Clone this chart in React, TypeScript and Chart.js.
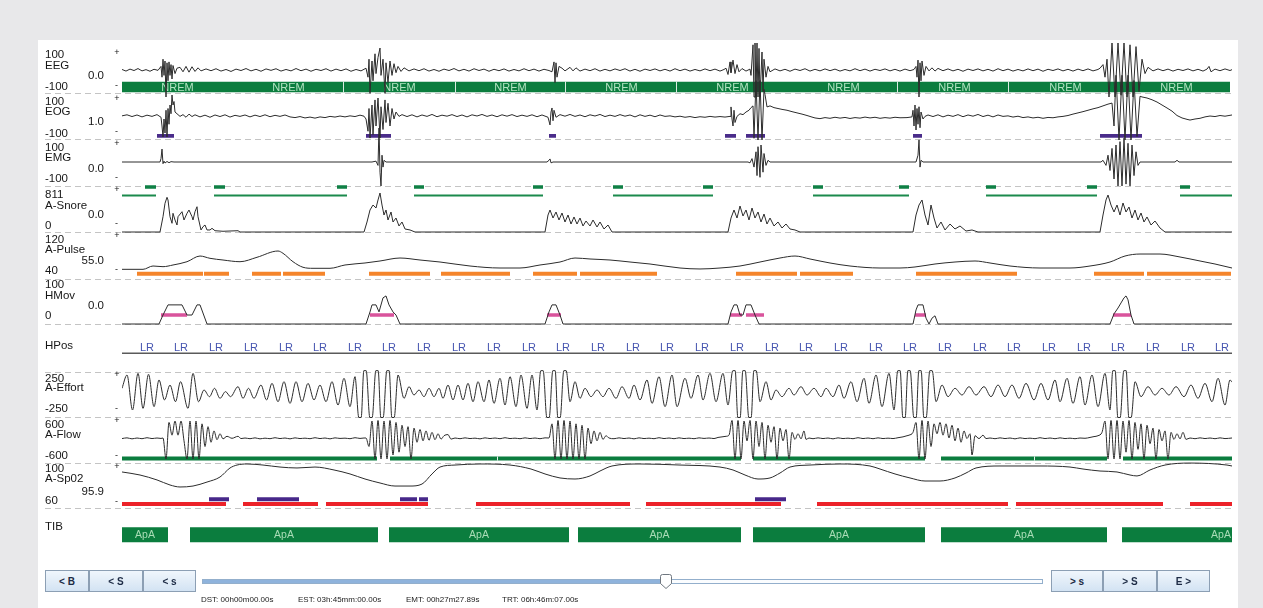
import React, { useEffect, useRef } from 'react';
import { Chart, registerables } from 'chart.js';

Chart.register(...registerables);

type TV = [number, number];
type Seg = [number, number];

// Visible window: 10 epochs, time axis in ticks (0 .. 1110)
const TIME_MAX = 1110;

// ---------------- signals: [time, value] ----------------
const EEG: TV[] = [
  [0,3],[4,-6],[8,5],[12,-3],[16,8],[20,-5],[24,2],[28,-7],[32,4],[36,-2],
  [39,20],[40,-40],[41,60],[42,-30],[43,50],[44,-150],[45,40],[46,-60],[47,45],[48,-30],[49,30],[50,-50],[51,25],[53,-20],[55,10],
  [58,15],[61,-10],[64,20],[67,-12],[70,18],[73,-8],[76,12],[79,-5],
  [84,6],[89,-4],[94,7],[99,-6],[104,3],[109,-8],[114,5],[119,-3],[124,8],[129,-5],[134,4],[139,-7],[144,6],[149,-2],[154,7],[159,-6],[164,3],[169,-5],[174,8],[179,-4],[184,5],[189,-7],[194,4],[199,-3],[204,7],[209,-6],[214,5],[219,-4],[224,6],[229,-7],[234,3],[239,-5],
  [244,10],[246,-40],[247,60],[248,-130],[250,50],[251,-60],[253,90],[254,-20],[256,70],[258,122],[259,-30],[261,60],[263,-130],[264,40],[266,-70],[268,50],[270,-30],[272,35],[274,-15],[276,20],[279,-8],[282,12],
  [287,-5],[292,6],[297,-4],[302,7],[307,-6],[312,3],[317,-7],[322,5],[327,-3],[332,8],[337,-5],[342,4],[347,-6],[352,7],[357,-3],[362,5],[367,-7],[372,4],[377,-4],[382,6],[387,-6],[392,3],[397,-5],[402,7],[407,-4],[412,5],[417,-6],[422,4],[427,-3],
  [430,-10],[432,45],[433,-70],[434,40],[435,-40],[437,20],[440,10],[443,-5],[448,15],[451,-5],[454,12],[458,-6],
  [463,5],[468,-4],[473,7],[478,-6],[483,4],[488,-5],[493,6],[498,-3],[503,7],[508,-6],[513,4],[518,-7],[523,5],[528,-3],[533,6],[538,-5],[543,4],[548,-6],[553,7],[558,-4],[563,5],[568,-6],[573,3],[578,-5],[583,6],[588,-4],[593,5],[598,-6],[602,3],
  [604,10],[606,-25],[608,45],[609,-15],[611,55],[613,-20],[615,30],[617,-10],[620,8],[624,-6],[628,5],
  [629,-30],[631,140],[632,-150],[633,150],[634,-150],[635,150],[636,-150],[637,120],[638,-150],[640,100],[641,-120],[642,60],[644,-40],[646,20],[648,-10],
  [653,6],[658,-5],[663,4],[668,-7],[673,5],[678,-3],[683,7],[688,-6],[693,4],[698,-5],[703,6],[708,-4],[713,5],[718,-6],[723,3],[728,-5],[733,7],[738,-4],[743,5],[748,-6],[753,4],[758,-3],[763,6],[768,-5],[773,4],[778,-6],[783,5],[788,-4],[792,3],
  [794,20],[795,-40],[796,55],[797,-150],[798,40],[799,-60],[800,50],[802,-30],[804,20],[807,-5],[810,12],[813,-6],[816,9],
  [821,-4],[826,6],[831,-5],[836,4],[841,-7],[846,5],[851,-3],[856,6],[861,-5],[866,4],[871,-6],[876,7],[881,-4],[886,5],[891,-6],[896,3],[901,-5],[906,6],[911,-4],[916,5],[921,-7],[926,4],[931,-3],[936,6],[941,-5],[946,4],[951,-6],[956,5],[961,-4],[966,6],[971,-5],[976,3],
  [978,10],[981,30],[983,-40],[985,60],[987,-150],[990,150],[993,-150],[996,150],[999,-140],[1002,150],[1005,-150],[1008,140],[1011,-150],[1014,130],[1017,-120],[1020,60],[1023,-20],[1026,15],
  [1031,-5],[1036,6],[1041,-4],[1046,5],[1051,-6],[1056,4],[1061,-3],[1066,6],[1071,-5],[1076,4],[1081,-6],[1085,5],[1087,20],[1089,-10],[1093,5],[1098,-4],[1103,6],[1108,-3],[1110,2],
];

const EOG: TV[] = [
  [0,-2],[5,4],[10,-6],[15,3],[20,-8],[25,2],[30,-5],[35,5],
  [39,-10],[40,-60],[41,-123],[42,-20],[43,-100],[44,30],[45,-123],[46,40],[47,-50],[48,60],[49,10],[50,117],[51,60],[52,80],[53,20],[55,10],
  [58,-5],[61,5],[64,-10],[67,8],[70,-6],[73,4],
  [78,-8],[83,2],[88,-10],[93,3],[98,-6],[103,4],[108,-9],[113,1],[118,-5],[123,3],[128,-8],[133,2],[138,-6],[143,4],[148,-7],[153,1],[158,-5],[163,3],[168,-8],[173,-12],[178,-6],[183,-14],[188,-9],[193,-15],[198,-8],[203,-12],[208,-5],[213,-9],[218,-3],[223,-8],[228,-2],[233,-6],[238,2],[242,-4],
  [244,-20],[246,-90],[247,40],[248,-129],[250,60],[251,-110],[253,89],[254,-60],[256,100],[258,-129],[259,50],[261,-80],[263,89],[264,-40],[266,70],[268,-60],[270,40],[272,-20],[274,20],[277,-5],
  [280,5],[285,-6],[290,4],[295,-8],[300,3],[305,-5],[310,6],[315,-7],[320,2],[325,-4],[330,5],[335,-6],[340,3],[345,-8],[350,4],[355,-3],[360,6],[365,-5],[370,3],[375,-7],[380,4],[385,-4],[390,5],[395,-6],[400,2],[405,-5],[410,4],[415,-7],[420,3],
  [426,-10],[428,-54],[429,20],[430,43],[431,-30],[432,30],[434,-10],
  [438,5],[443,-4],[448,6],[453,-5],[458,3],[463,-7],[468,4],[473,-3],[478,6],[483,-6],[488,2],[493,-5],[498,5],[503,-4],[508,3],[513,-8],[518,4],[523,-5],[528,2],[533,-7],[538,3],[543,-5],[548,-2],[553,-8],[558,-4],[563,-10],[568,-6],[573,-12],[578,-7],[583,-10],[588,-5],[593,-9],[598,-6],[603,-9],
  [608,-5],[609,49],[610,-20],[611,-60],[612,30],[613,-40],[615,-5],
  [618,10],[621,5],[624,20],[627,30],[629,45],[631,55],
  [632,-130],[634,200],[636,-140],[638,200],[640,-140],[642,150],[643,120],
  [645,49],[648,55],[652,45],[656,40],[660,35],[665,30],[670,22],[675,15],[680,8],[685,0],[690,-9],[693,-14],
  [698,-18],[703,-12],[708,-16],[713,-10],[718,-15],[723,-11],[728,-17],[733,-12],[738,-15],[743,-9],[748,-14],[753,-10],[758,-16],[763,-12],[768,-15],[773,-10],[778,-13],[785,-12],[790,-8],
  [791,30],[792,-60],[793,60],[794,-83],[795,40],[796,-50],[797,50],[798,-70],[799,20],[801,-20],[803,-5],
  [806,3],[811,-6],[816,4],[821,-8],[826,2],[831,-5],[836,5],[841,-7],[846,3],[851,-4],[856,6],[861,-6],[866,2],[871,-8],[876,3],[881,-5],[886,-2],[891,-9],[896,-4],[901,-12],[906,-8],[911,-14],[916,-10],[921,-16],[926,-11],[931,-13],[936,-8],
  [941,-5],[946,0],[951,8],[956,15],[961,22],[966,30],[971,38],[976,45],[981,55],[986,65],[990,71],
  [992,-60],[994,230],[997,-140],[1000,230],[1003,-140],[1006,230],[1009,-140],[1012,200],[1015,-120],[1018,110],
  [1020,106],[1025,100],[1030,90],[1035,77],[1040,60],[1045,43],[1050,25],[1055,0],[1060,-14],[1065,-22],[1068,-26],[1073,-20],[1078,-16],[1083,-8],[1088,-3],[1093,-6],[1098,0],[1103,-4],[1110,3],
];

const EMG: TV[] = [
  [0,0],[38,0],[39,20],[40,76],[41,-10],[42,5],[43,-6],[45,3],[47,-4],[49,2],[52,0],
  [250,0],[254,5],[256,-20],[257,200],[258,-60],[259,-141],[260,40],[261,-30],[262,10],[264,0],
  [425,0],[427,10],[428,18],[429,-5],[431,0],
  [626,0],[628,-5],[630,20],[632,-30],[634,60],[635,-80],[636,90],[638,-90],[639,100],[641,-60],[642,50],[644,-20],[646,10],[648,0],
  [794,0],[796,40],[797,130],[798,-30],[799,10],[801,0],
  [979,0],[981,10],[984,-20],[986,40],[988,-50],[990,80],[992,-100],[994,100],[996,-141],[998,120],[1000,-141],[1002,140],[1004,-130],[1006,110],[1008,-141],[1010,100],[1012,-80],[1014,60],[1016,-20],[1018,0],
  [1053,0],[1055,10],[1057,0],[1110,0],
];

const SNORE: TV[] = [
  [0,0],[38,0],[41,295],[43,554],[45,670],[46,618],[48,295],[50,168],[51,361],[53,232],[55,135],[56,295],[60,392],[62,232],[65,361],[67,425],[70,295],[71,232],[73,392],[75,488],[76,295],[79,39],[81,102],[83,135],[85,39],[88,39],[90,71],[93,25],[101,14],[116,25],[118,0],
  [242,0],[245,193],[248,425],[251,521],[254,463],[256,618],[258,753],[260,521],[262,328],[264,425],[266,232],[269,386],[271,193],[274,270],[277,116],[280,193],[283,58],[288,39],[293,0],
  [423,0],[426,328],[428,425],[431,270],[434,386],[437,232],[440,367],[443,193],[446,328],[449,154],[452,290],[455,154],[458,270],[461,116],[464,212],[468,116],[471,232],[475,97],[478,193],[482,58],[486,135],[490,0],
  [606,0],[609,270],[612,425],[615,270],[618,502],[621,309],[624,425],[627,232],[630,463],[633,270],[636,386],[639,193],[642,347],[645,154],[648,270],[652,116],[656,193],[660,77],[664,154],[668,58],[673,39],[678,0],
  [791,0],[794,328],[797,521],[800,618],[803,328],[806,135],[809,521],[812,270],[815,77],[819,193],[823,39],[828,154],[833,58],[838,116],[844,19],[850,39],[856,0],
  [978,0],[981,328],[984,618],[986,714],[989,521],[992,386],[995,521],[998,328],[1001,560],[1004,386],[1007,483],[1010,270],[1013,425],[1016,232],[1019,367],[1022,193],[1025,290],[1029,135],[1033,212],[1038,77],[1043,0],
  [1110,0],
];

const PULSE: TV[] = [
  [0,41.6],[21,41.6],[31,49.4],[41,47.8],[51,51.8],[65,59.5],[78,72.9],[88,67.5],[101,63.5],[118,59.5],[135,69.9],[156,84.7],[161,79.3],[171,59.5],[181,46.4],[191,44],[208,44],
  [223,51.8],[243,56.5],[258,61.2],[278,68.2],[298,63.5],[318,58.8],[348,49.4],[378,44.7],[398,44.7],[418,51.8],[438,58.8],[453,68.2],[468,65.9],[488,63.5],[508,58.8],[528,54.1],[558,44.7],[578,42.4],[598,44.7],
  [618,49.4],[638,58.8],[658,68.2],[673,72.9],[688,65.9],[708,56.5],[728,49.4],[758,44.7],[778,44.7],[793,47.1],[813,54.1],[833,58.8],[853,61.2],[868,56.5],[888,49.4],[918,44.7],[948,44.7],
  [968,49.4],[988,58.8],[1003,72.9],[1018,77.6],[1038,77.6],[1058,70.6],[1078,61.2],[1093,54.1],[1110,44.7],
];

const HMOV: TV[] = [
  [0,0],[37,0],[41,23],[46,49],[60,49],[65,23],[70,23],[75,49],[78,49],[85,0],
  [244,0],[248,31],[250,49],[254,49],[257,31],[261,67],[264,72],[267,49],[271,31],[274,23],[278,0],
  [423,0],[427,31],[430,49],[434,49],[438,23],[441,0],
  [606,0],[609,31],[612,49],[615,49],[618,23],[621,23],[624,49],[629,49],[633,23],[637,0],
  [791,0],[794,36],[796,49],[801,49],[804,15],[807,0],[810,15],[813,21],[816,0],
  [988,0],[992,26],[996,41],[999,54],[1002,67],[1004,72],[1006,62],[1009,23],[1012,0],[1110,0],
];

const EFFORT: TV[] = [
  [0,65],[5,250],[10.5,-236],[16,273],[21,-213],[26.5,260],[32,-190],[37,181],[42.5,-97],[48,111],[53.5,-121],[58.5,157],[66,-213],[71,273],[76.5,-121],
  [82,42],[87.5,-51],[92.5,65],[98,-74],[103.5,19],[108.5,-51],[116,88],[121,-74],[126.5,65],[132,-74],[139,111],[144.5,-97],
  [150,134],[156,-121],[162,157],[168,-144],[174,157],[180,-121],[186,134],[192,-97],[198,111],[204,-121],[210,157],[216,-167],[222,204],[228,-190],[233,227],
  [236.8,-340],[239.2,-340],[241.8,310],[244.2,310],[247.8,-340],[250.2,-340],[253.8,310],[256.2,310],[258.8,-340],[261.2,-340],[264.8,310],[267.2,310],[269.8,-340],[272.2,-340],
  [276,250],[282,-74],
  [287,88],[292,-28],[297,42],[302,-51],[307,65],[312,-51],[317,65],
  [321,-74],[326,111],[331,-97],[336,111],[341,-97],[346,134],[351,-121],[356,157],[362,-121],[367,181],[372,-144],[378,204],[383,-167],[388,227],[394,-190],[399,250],[405,-213],[410,250],[415,-236],
  [418.8,310],[421.2,310],[424.8,-340],[427.2,-340],[430.8,310],[433.2,310],[435.8,-340],[438.2,-340],[441.8,310],[444.2,310],[448,-121],
  [453,157],[458,-74],[463,65],[469,-51],[475,42],[481,-51],[487,65],[494,-74],[500,88],[507,-74],[512,111],[518,-97],
  [525,181],[530,-144],[537,227],[543,-190],[550,250],[555,-190],[563,204],[569,-74],[576,250],[581,-97],[588,273],[594,-121],[601,273],[606,-167],
  [610.8,310],[613.2,310],[615.8,-340],[618.2,-340],[620.8,310],[623.2,310],[626.8,-340],[629.2,-340],[631.8,310],[634.2,310],
  [638,-121],[644,157],[649,-97],[654,42],[660,-51],[667,65],[672,-28],[679,88],[685,-28],[692,65],[699,-51],[704,65],[711,-51],
  [717,111],[722,-74],[729,157],[735,-121],[742,204],[747,-144],[754,250],[760,-190],[767,273],[772,-236],
  [775.8,310],[778.2,310],[780.8,-340],[783.2,-340],[785.8,310],[788.2,310],[791.8,-340],[794.2,-340],[796.8,310],[799.2,310],[801.8,-340],[804.2,-340],[807.8,310],[810.2,310],
  [814,-121],[820,111],[826,-51],[833,65],[840,-28],[847,88],[854,-28],[862,88],[869,-51],[876,111],[883,-51],[890,111],[897,-74],[904,134],[912,-97],
  [919,134],[926,-97],[933,181],[938,-121],[945,204],[951,-144],[958,227],[963,-167],[970,250],[976,-190],[983,273],[988,-236],
  [990.8,310],[993.2,310],[995.8,-340],[998.2,-340],[1001.8,310],[1004.2,310],[1006.8,-340],[1009.2,-340],
  [1013,157],[1019,-51],[1026,88],[1033,-28],[1040,65],[1047,-28],[1054,88],[1062,-51],[1069,111],[1076,-74],[1083,134],[1090,-121],[1096,204],[1103,-167],[1108,181],[1110,150],
];

const FLOW: TV[] = [
  [0,-20],[5,5],[10,-30],[15,0],[20,-25],[25,10],[30,-20],[35,0],[39,-15],
  [41,0],[44,-740],[47,550],[50,100],[53,600],[56,100],[59,600],[62,-100],[65,-740],[68,600],[71,-740],[74,600],[77,-740],[80,500],[83,-300],[86,400],[89,-150],[92,250],[95,-60],[98,150],[101,-30],[105,60],[110,-10],[116,60],[119,-20],[123,0],
  [128,-25],[133,5],[138,-30],[143,-5],[148,-25],[153,10],[158,-20],[163,0],[168,-30],[173,5],[178,-20],[183,-5],[188,-25],[193,10],[198,-20],[203,0],[208,-30],[213,5],[218,-15],[223,-5],[228,-25],[233,10],[238,-15],[242,0],
  [244,0],[247,-300],[250,600],[253,-740],[256,620],[259,-740],[262,600],[265,-740],[268,620],[271,-600],[274,550],[277,-500],[280,450],[283,-300],[286,400],[289,-740],[292,350],[295,-150],[298,300],[301,-100],[304,250],[307,-80],[310,200],[313,-60],[316,150],[319,-40],[322,80],[326,120],[329,-40],[333,0],
  [338,-25],[343,5],[348,-20],[353,-5],[358,-30],[363,5],[368,-20],[373,0],[378,-25],[383,10],[388,-20],[393,-5],[398,-25],[403,5],[408,-20],[413,0],[418,-25],[423,5],
  [427,0],[430,500],[433,-740],[436,620],[439,-740],[442,620],[445,-740],[448,600],[451,-740],[454,500],[457,-740],[460,450],[463,-740],[466,350],[469,-200],[472,250],[475,-100],[478,200],[481,-50],[484,80],[487,0],
  [492,-25],[497,5],[502,-20],[507,0],[512,-30],[517,5],[522,-20],[527,-5],[532,-25],[537,10],[542,-20],[547,0],[552,-25],[557,5],[562,-20],[567,-5],[572,-25],[577,5],[582,-15],[587,0],[592,-20],[596,20],[600,40],
  [604,60],[607,100],[610,620],[613,-740],[616,620],[619,-740],[622,600],[625,-100],[628,620],[631,-740],[634,600],[637,-300],[640,550],[643,-740],[646,450],[649,-150],[652,400],[655,-740],[658,350],[661,-100],[664,300],[667,-740],[670,200],[673,-50],[676,150],[679,-30],[682,250],[684,-50],[687,0],
  [691,-25],[696,5],[701,-20],[706,0],[711,-30],[716,5],[721,-20],[726,-5],[731,-25],[736,10],[741,-20],[746,0],[751,-25],[756,5],[761,-20],[766,-5],[771,-20],[776,10],[781,40],[785,80],
  [787,100],[791,200],[794,550],[797,-740],[800,620],[803,-740],[806,600],[809,-300],[812,500],[815,150],[818,550],[821,100],[824,500],[827,0],[830,450],[833,-100],[836,350],[839,-150],[842,250],[845,-20],[848,150],[850,-600],[853,80],[857,-20],[861,100],[864,-20],[868,0],
  [873,-25],[878,5],[883,-20],[888,0],[893,-30],[898,5],[903,-20],[908,-5],[913,-25],[918,10],[923,-20],[928,0],[933,-25],[938,5],[943,-20],[948,-5],[953,-25],[958,0],[963,-10],[968,20],[972,50],
  [976,80],[980,200],[983,600],[986,-740],[989,620],[992,-740],[995,620],[998,-740],[1001,600],[1004,-500],[1007,620],[1010,-740],[1013,550],[1016,-400],[1019,500],[1022,-740],[1025,450],[1028,-200],[1031,350],[1034,-740],[1037,300],[1040,-100],[1043,250],[1046,-740],[1049,200],[1052,-50],[1055,150],[1058,-30],[1061,200],[1064,-50],[1068,0],
  [1073,-25],[1078,5],[1083,-20],[1088,0],[1093,-25],[1098,5],[1103,-20],[1110,0],
];

const SPO2: TV[] = [
  [0,88.6],[18,85.7],[35,81],[48,76.2],[58,74.3],[71,75.2],[85,79],[98,83.8],[108,92.4],[115,95.2],[125,96.2],[141,95.2],[158,93.3],[175,92.4],[193,93.3],[212,90.5],
  [228,86.7],[243,81.9],[258,78.1],[273,75.2],[288,75.2],[300,77.1],[310,86.7],[318,93.3],[333,95.2],[358,96.2],[388,95.2],[409,91.4],[423,86.7],[438,82.9],[453,81.9],[468,84.8],
  [478,89.5],[490,94.3],[518,96.2],[558,95.2],[598,93.3],[611,90.5],[623,85.7],[636,81.9],[648,82.9],[658,87.6],[668,93.3],[688,95.2],[718,96.2],[748,94.3],[758,91.4],[773,86.7],
  [788,82.9],[803,80],[818,80],[833,82.9],[844,87.6],[854,92.4],[878,94.3],[918,94.3],[948,93.3],[961,91.4],[978,89.5],[995,88.6],[1008,85.7],[1015,84.8],[1028,90.5],[1043,95.2],
  [1068,97.1],[1105,95.2],[1110,94.3],
];

// ---------------- scored events: [start, end] ----------------
const SLEEP_STAGE_SEGS: Seg[] = [[0, 1108]];
const SLEEP_STAGE_BREAKS = [221, 333, 443, 554, 775, 886];
const EPOCH_CENTERS = [55.5, 166.5, 277.5, 388.5, 499.5, 610.5, 721.5, 832.5, 943.5, 1054.5];
const EPOCH_STAGES = ['NREM','NREM','NREM','NREM','NREM','NREM','NREM','NREM','NREM','NREM'];
const EOG_EVENTS: Seg[] = [[35,52],[244,269],[427,434],[603,614],[624,643],[791,800],[978,1020]];
const SNORE_MARKS: Seg[] = [[23,34],[92,103],[215,225],[292,302],[411,421],[491,501],[581,591],[691,701],[777,787],[864,874],[965,975],[1058,1068]];
const SNORE_SPANS: Seg[] = [[0,34],[92,225],[292,421],[491,591],[691,787],[864,975],[1058,1110]];
const PULSE_EVENTS: Seg[] = [[15,81],[82,107],[130,159],[161,203],[247,308],[319,388],[411,455],[458,535],[614,675],[678,731],[794,895],[972,1022],[1025,1109]];
const HMOV_EVENTS: Seg[] = [[39,65],[248,272],[425,439],[608,620],[624,642],[793,804],[991,1009]];
const HPOS_TIMES = [25,59,94,129,164,198,233,267,302,337,372,407,441,476,511,545,580,615,650,684,719,754,788,823,858,892,927,962,996,1031,1066,1100];
const HPOS_VALUES = ['LR','LR','LR','LR','LR','LR','LR','LR','LR','LR','LR','LR','LR','LR','LR','LR','LR','LR','LR','LR','LR','LR','LR','LR','LR','LR','LR','LR','LR','LR','LR','LR'];
const FLOW_EVENTS: Seg[] = [[0,255],[268,619],[631,803],[819,985],[1001,1110]];
const FLOW_BREAKS = [375, 912];
const SPO2_EVENTS: Seg[] = [[0,104],[121,196],[204,306],[354,508],[524,659],[695,886],[894,1041],[1068,1110]];
const DESAT_EVENTS: Seg[] = [[87,107],[135,177],[278,295],[297,306],[633,664]];
const APNEA_SEGS: Seg[] = [[0,46],[68,256],[267,447],[456,619],[631,803],[819,985],[1000,1198]];
const APNEA_LABELS = ['ApA','ApA','ApA','ApA','ApA','ApA','ApA'];

// ---------------- layout (track positions, in y-scale units) ----------------
type Lane = { min: number; max: number; yMin: number; yMax: number };
const LANES: Record<string, Lane> = {
  eeg: { min: -100, max: 100, yMin: 88, yMax: 52 },
  eog: { min: -100, max: 100, yMin: 133, yMax: 98 },
  emg: { min: -100, max: 100, yMin: 179, yMax: 145 },
  snore: { min: 0, max: 811, yMin: 232, yMax: 190 },
  pulse: { min: 40, max: 120, yMin: 270, yMax: 236 },
  hmov: { min: 0, max: 100, yMin: 324, yMax: 285 },
  effort: { min: -250, max: 250, yMin: 411, yMax: 375 },
  flow: { min: -600, max: 600, yMin: 455, yMax: 421 },
  spo2: { min: 60, max: 100, yMin: 502, yMax: 460 },
};
const DIVIDERS = [93.3, 139.3, 185.7, 231.7, 278.5, 324, 371.5, 416.7, 462.7, 508.3];

type LabelCfg = { name: string; nameY: number; top?: string; topY?: number; bottom?: string; bottomY?: number; mid?: string; midY?: number; plusY?: number; minusY?: number };
const LABELS: LabelCfg[] = [
  { name: 'EEG', nameY: 65.5, top: '100', topY: 55, bottom: '-100', bottomY: 86.5, mid: '0.0', midY: 75.5, plusY: 52.5, minusY: 86 },
  { name: 'EOG', nameY: 112, top: '100', topY: 101.7, bottom: '-100', bottomY: 133.5, mid: '1.0', midY: 122, plusY: 98.3, minusY: 132 },
  { name: 'EMG', nameY: 158, top: '100', topY: 147.5, bottom: '-100', bottomY: 178.5, mid: '0.0', midY: 168.5, plusY: 144, minusY: 177.5 },
  { name: 'A-Snore', nameY: 205.5, top: '811', topY: 195, bottom: '0', bottomY: 225.5, mid: '0.0', midY: 214.5, plusY: 190, minusY: 223.5 },
  { name: 'A-Pulse', nameY: 249.5, top: '120', topY: 239.5, bottom: '40', bottomY: 270.5, mid: '55.0', midY: 260.5, plusY: 236, minusY: 270 },
  { name: 'HMov', nameY: 295.5, top: '100', topY: 285, bottom: '0', bottomY: 316, mid: '0.0', midY: 306 },
  { name: 'HPos', nameY: 345.5 },
  { name: 'A-Effort', nameY: 387.5, top: '250', topY: 378.5, bottom: '-250', bottomY: 408.5, plusY: 374.3, minusY: 408.5 },
  { name: 'A-Flow', nameY: 434.5, top: '600', topY: 424.5, bottom: '-600', bottomY: 455.5, plusY: 420.7, minusY: 455.5 },
  { name: 'A-Sp02', nameY: 478.5, top: '100', topY: 468.5, bottom: '60', bottomY: 500.5, mid: '95.9', midY: 492, plusY: 466.7, minusY: 502 },
  { name: 'TIB', nameY: 527 },
];

const STATUS = ['DST: 00h00m00.00s', 'EST: 03h:45mm:00.00s', 'EMT: 00h27m27.89s', 'TRT: 06h:46m:07.00s'];
const STATUS_X = [201, 298, 406, 502];

const GREEN = '#0b7d3e';
const TRACE = '#2c2c2c';
const FONT = '"Liberation Sans", Arial, sans-serif';

function laneY(l: Lane, v: number) {
  return l.yMin + ((v - l.min) / (l.max - l.min)) * (l.yMax - l.yMin);
}
function signalPts(arr: TV[], lane: Lane) {
  return arr.map(([t, v]) => ({ x: t, y: laneY(lane, v) }));
}
function barPts(segs: Seg[], y: number) {
  const out: { x: number; y: number | null }[] = [];
  segs.forEach(([a, b]) => {
    out.push({ x: a, y }, { x: b, y }, { x: b, y: null });
  });
  return out;
}

function signalDs(label: string, arr: TV[], lane: Lane, smooth: boolean) {
  return {
    label,
    data: signalPts(arr, lane),
    borderColor: TRACE,
    borderWidth: 1,
    pointRadius: 0,
    tension: smooth ? 0.4 : 0,
    cubicInterpolationMode: smooth ? ('monotone' as const) : ('default' as const),
    order: 0,
  };
}
function barDs(label: string, segs: Seg[], y: number, color: string, width: number) {
  return {
    label,
    data: barPts(segs, y),
    borderColor: color,
    borderWidth: width,
    borderCapStyle: 'butt' as const,
    pointRadius: 0,
    tension: 0,
    spanGaps: false,
    order: 10,
  };
}

const decorPlugin = {
  id: 'psgDecor',
  beforeDatasetsDraw(chart: any) {
    const { ctx, scales } = chart;
    const x = scales.x, y = scales.y;
    ctx.save();
    ctx.strokeStyle = '#c4c4c4';
    ctx.lineWidth = 1;
    ctx.setLineDash([6, 4]);
    DIVIDERS.forEach((d) => {
      const py = Math.round(y.getPixelForValue(d)) + 0.5;
      ctx.beginPath();
      ctx.moveTo(45, py);
      ctx.lineTo(x.getPixelForValue(TIME_MAX), py);
      ctx.stroke();
    });
    ctx.restore();
  },
  afterDatasetDraw(chart: any, args: any) {
    const { ctx, scales } = chart;
    const x = scales.x, y = scales.y;
    const ds = chart.data.datasets[args.index];
    const area = chart.chartArea;
    ctx.save();
    ctx.beginPath();
    ctx.rect(area.left, area.top, area.right - area.left, area.bottom - area.top);
    ctx.clip();
    if (ds.label === 'Sleep stage') {
      ctx.strokeStyle = 'rgba(255,255,255,0.85)';
      ctx.lineWidth = 1;
      SLEEP_STAGE_BREAKS.forEach((t) => {
        const px = Math.round(x.getPixelForValue(t)) + 0.5;
        ctx.beginPath();
        ctx.moveTo(px, y.getPixelForValue(81.7));
        ctx.lineTo(px, y.getPixelForValue(92.3));
        ctx.stroke();
      });
      ctx.fillStyle = '#b3e3c1';
      ctx.font = `11px ${FONT}`;
      ctx.textAlign = 'center';
      ctx.textBaseline = 'middle';
      EPOCH_CENTERS.forEach((t, i) => ctx.fillText(EPOCH_STAGES[i], x.getPixelForValue(t), y.getPixelForValue(87.5)));
    } else if (ds.label === 'TIB') {
      ctx.fillStyle = '#a9dcb6';
      ctx.font = `10.5px ${FONT}`;
      ctx.textAlign = 'center';
      ctx.textBaseline = 'middle';
      APNEA_SEGS.forEach(([a, b], i) => ctx.fillText(APNEA_LABELS[i], x.getPixelForValue((a + b) / 2), y.getPixelForValue(535.5)));
    } else if (ds.label === 'Flow events') {
      ctx.strokeStyle = 'rgba(255,255,255,0.9)';
      ctx.lineWidth = 1;
      FLOW_BREAKS.forEach((t) => {
        const px = Math.round(x.getPixelForValue(t)) + 0.5;
        ctx.beginPath();
        ctx.moveTo(px, y.getPixelForValue(456.5));
        ctx.lineTo(px, y.getPixelForValue(460.5));
        ctx.stroke();
      });
    }
    ctx.restore();
  },
  afterDraw(chart: any) {
    const { ctx, scales } = chart;
    const x = scales.x, y = scales.y;
    ctx.save();
    ctx.fillStyle = '#161616';
    ctx.textBaseline = 'middle';
    LABELS.forEach((l) => {
      ctx.font = `11.5px ${FONT}`;
      ctx.textAlign = 'left';
      ctx.fillText(l.name, 45, y.getPixelForValue(l.nameY));
      if (l.top) ctx.fillText(l.top, 45, y.getPixelForValue(l.topY!));
      if (l.bottom) ctx.fillText(l.bottom, 45, y.getPixelForValue(l.bottomY!));
      if (l.mid) {
        ctx.textAlign = 'right';
        ctx.fillText(l.mid, 104, y.getPixelForValue(l.midY!));
      }
      ctx.font = `9px ${FONT}`;
      ctx.textAlign = 'center';
      if (l.plusY !== undefined) ctx.fillText('+', 117, y.getPixelForValue(l.plusY));
      if (l.minusY !== undefined) ctx.fillText('-', 116.5, y.getPixelForValue(l.minusY));
    });
    ctx.fillStyle = '#4655b0';
    ctx.font = `11px ${FONT}`;
    ctx.textAlign = 'center';
    HPOS_TIMES.forEach((t, i) => ctx.fillText(HPOS_VALUES[i], x.getPixelForValue(t), y.getPixelForValue(348)));
    ctx.restore();
  },
};

function Button({ left, width, text }: { left: number; width: number; text: string }) {
  return (
    <div
      style={{
        position: 'absolute', left, top: 570, width, height: 22, boxSizing: 'border-box',
        border: '1px solid #8c9fb4', background: 'linear-gradient(#f0f6fc, #d3e3f3)',
        color: '#1d2b45', font: `bold 10px ${FONT}`, display: 'flex', alignItems: 'center', justifyContent: 'center',
      }}
    >
      {text}
    </div>
  );
}

export default function App() {
  const ref = useRef<HTMLCanvasElement>(null);
  useEffect(() => {
    document.body.style.margin = '0';
    const datasets: any[] = [
      signalDs('EEG', EEG, LANES.eeg, false),
      signalDs('EOG', EOG, LANES.eog, false),
      signalDs('EMG', EMG, LANES.emg, false),
      signalDs('A-Snore', SNORE, LANES.snore, false),
      signalDs('A-Pulse', PULSE, LANES.pulse, true),
      signalDs('HMov', HMOV, LANES.hmov, false),
      signalDs('A-Effort', EFFORT, LANES.effort, true),
      signalDs('A-Flow', FLOW, LANES.flow, true),
      signalDs('A-Sp02', SPO2, LANES.spo2, true),
      barDs('Sleep stage', SLEEP_STAGE_SEGS, 87, GREEN, 10.6),
      barDs('EOG events', EOG_EVENTS, 135.8, '#4a2c8a', 3.8),
      barDs('Snore marks', SNORE_MARKS, 187, '#0f8045', 3.5),
      barDs('Snore spans', SNORE_SPANS, 195.5, '#1b8a4c', 1.8),
      barDs('Pulse events', PULSE_EVENTS, 273.7, '#f5852b', 4),
      barDs('HMov events', HMOV_EVENTS, 315, '#d9539c', 3.4),
      barDs('HPos', [[0, TIME_MAX]], 353.3, '#5a5a5a', 1.6),
      barDs('Flow events', FLOW_EVENTS, 458.5, GREEN, 3.8),
      barDs('SpO2 events', SPO2_EVENTS, 504, '#ec2229', 4),
      barDs('Desat events', DESAT_EVENTS, 499.3, '#47288a', 4),
      barDs('TIB', APNEA_SEGS, 534.8, GREEN, 15),
    ];
    const chart = new Chart(ref.current!, {
      type: 'line',
      data: { datasets },
      options: {
        animation: false,
        responsive: false,
        devicePixelRatio: 1,
        events: [],
        layout: { padding: { left: 122, right: 31, top: 40, bottom: 48 } },
        plugins: { legend: { display: false }, tooltip: { enabled: false }, title: { display: false } },
        scales: {
          x: { type: 'linear', min: 0, max: TIME_MAX, display: false },
          y: { type: 'linear', min: 40, max: 560, reverse: true, display: false },
        },
      },
      plugins: [decorPlugin],
    } as any);
    return () => chart.destroy();
  }, []);

  return (
    <div style={{ position: 'fixed', left: 0, top: 0, width: 1263, height: 608, background: '#e8e8ea', overflow: 'hidden', fontFamily: FONT }}>
      <div style={{ position: 'absolute', left: 38, top: 40, width: 1200, height: 568, background: '#ffffff' }} />
      <canvas ref={ref} width={1263} height={608} style={{ position: 'absolute', left: 0, top: 0, width: 1263, height: 608 }} />
      <Button left={45} width={44} text="< B" />
      <Button left={89} width={54} text="< S" />
      <Button left={143} width={53} text="< s" />
      <Button left={1051} width={52} text="> s" />
      <Button left={1103} width={54} text="> S" />
      <Button left={1157} width={53} text="E >" />
      <div style={{ position: 'absolute', left: 202, top: 579, width: 841, height: 5, boxSizing: 'border-box', border: '1px solid #93afcc', background: '#fbfdff' }} />
      <div style={{ position: 'absolute', left: 203, top: 580, width: 462, height: 3, background: '#8fb3dc' }} />
      <svg style={{ position: 'absolute', left: 659, top: 574 }} width={14} height={16}>
        <path d="M1.5 2.5 Q1.5 0.5 3.5 0.5 H10.5 Q12.5 0.5 12.5 2.5 V9.5 L7 14.5 L1.5 9.5 Z" fill="#ffffff" stroke="#6f7780" strokeWidth={1} />
      </svg>
      {STATUS.map((s, i) => (
        <div key={s} style={{ position: 'absolute', left: STATUS_X[i], top: 595, font: `8px ${FONT}`, color: '#222', whiteSpace: 'nowrap' }}>
          {s}
        </div>
      ))}
    </div>
  );
}
